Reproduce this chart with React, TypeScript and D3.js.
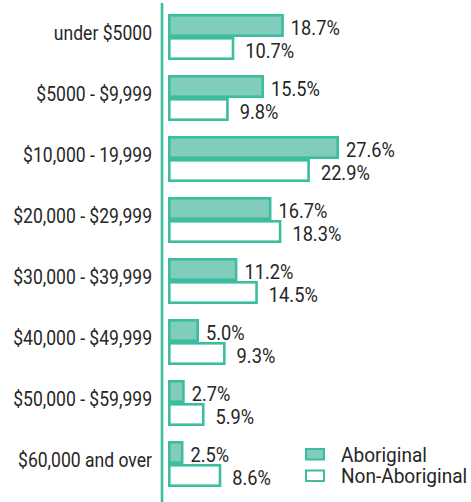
import React from "react";
import * as d3 from "d3";

const categories = [
  "under $5000",
  "$5000 - $9,999",
  "$10,000 - 19,999",
  "$20,000 - $29,999",
  "$30,000 - $39,999",
  "$40,000 - $49,999",
  "$50,000 - $59,999",
  "$60,000 and over",
];
const aboriginal = [18.7, 15.5, 27.6, 16.7, 11.2, 5.0, 2.7, 2.5];
const nonAboriginal = [10.7, 9.8, 22.9, 18.3, 14.5, 9.3, 5.9, 8.6];
const seriesNames = ["Aboriginal", "Non-Aboriginal"];

const W = 471;
const H = 502;
const TEAL = "#3bbd9e";
const FILL = "#80cdbb";
const TEXT = "#262626";
const FONT = "Roboto, 'Liberation Sans', sans-serif";

function NarrowText(props: {
  x: number;
  y: number;
  size: number;
  sx: number;
  anchor?: string;
  children: React.ReactNode;
}) {
  return (
    <g transform={`translate(${props.x},${props.y}) scale(${props.sx},1)`}>
      <text
        x={0}
        y={0}
        dy="0.35em"
        textAnchor={props.anchor || "start"}
        fontSize={props.size}
        fill={TEXT}
      >
        {props.children}
      </text>
    </g>
  );
}

export default function App() {
  const x0 = 168;
  const x = d3.scaleLinear().domain([0, 27.6]).range([0, 171]);
  const step = 61;
  const band = 46;
  const y = d3
    .scaleBand<string>()
    .domain(categories)
    .range([14, 14 + 7 * step + band])
    .paddingInner((step - band) / step)
    .paddingOuter(0)
    .align(0);
  const barH = y.bandwidth() / 2;
  const sw = 2.6;
  const series = [aboriginal, nonAboriginal];
  const fills = [FILL, "#ffffff"];

  return (
    <svg
      width={W}
      height={H}
      style={{ position: "absolute", left: 0, top: 0, display: "block" }}
      fontFamily={FONT}
    >
      <rect width={W} height={H} fill="#ffffff" />
      <line x1={162} x2={162} y1={3} y2={H} stroke={TEAL} strokeWidth={2.6} />
      {categories.map((c, i) => {
        const yb = y(c)!;
        return (
          <g key={c}>
            <NarrowText x={152} y={yb + barH - 4} size={19.5} sx={0.9} anchor="end">
              {c}
            </NarrowText>
            {series.map((s, j) => {
              const v = s[i];
              const w = x(v);
              const top = yb + j * barH;
              return (
                <g key={j}>
                  <rect
                    x={x0 + sw / 2}
                    y={top + sw / 2}
                    width={Math.max(0, w - sw)}
                    height={barH - sw}
                    fill={fills[j]}
                    stroke={TEAL}
                    strokeWidth={sw}
                  />
                  <NarrowText
                    x={x0 + w + (j === 0 ? 7 : 11)}
                    y={top + barH / 2 + 2}
                    size={20.5}
                    sx={0.89}
                  >
                    {d3.format(".1f")(v)}%
                  </NarrowText>
                </g>
              );
            })}
          </g>
        );
      })}
      {seriesNames.map((n, j) => (
        <g key={n} transform={`translate(305, ${448 + j * 21.5})`}>
          <rect
            x={1}
            y={1}
            width={18}
            height={10.5}
            fill={fills[j]}
            stroke={TEAL}
            strokeWidth={2}
          />
          <NarrowText x={36} y={6.5} size={20.5} sx={0.93}>
            {n}
          </NarrowText>
        </g>
      ))}
    </svg>
  );
}
